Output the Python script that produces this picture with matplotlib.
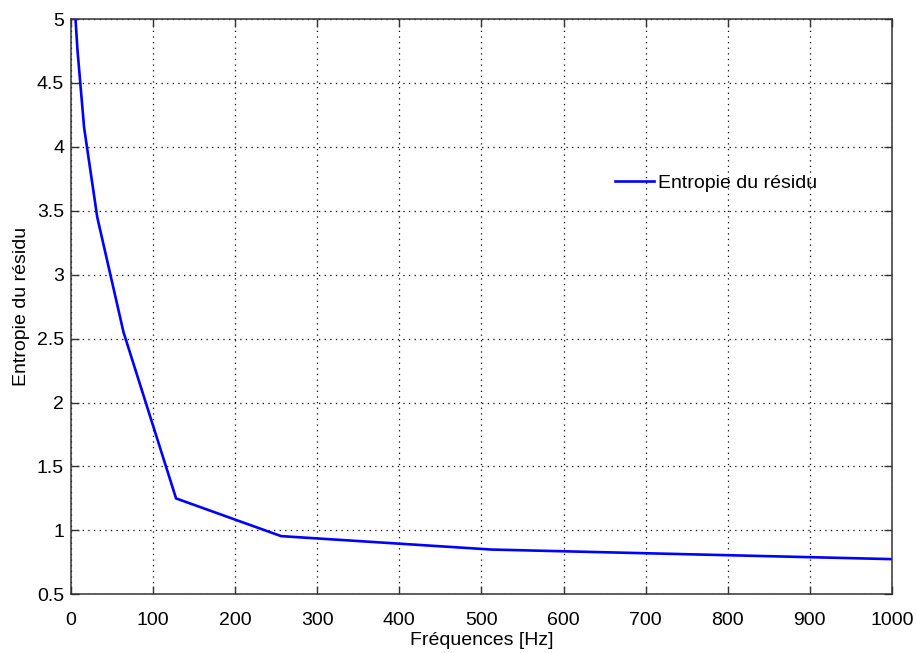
import matplotlib

matplotlib.use("Agg")
import matplotlib.pyplot as plt

# values
freqs = [4, 8, 16, 32, 64, 128, 256, 512, 1000]
entropy = [5.15, 4.75, 4.15, 3.45, 2.55, 1.25, 0.955, 0.85, 0.775]

x_ticks = [0, 100, 200, 300, 400, 500, 600, 700, 800, 900, 1000]
y_ticks = [0.5, 1, 1.5, 2, 2.5, 3, 3.5, 4, 4.5, 5]
y_tick_labels = ["0.5", "1", "1.5", "2", "2.5", "3", "3.5", "4", "4.5", "5"]

plt.rcParams["font.family"] = ["Liberation Sans", "DejaVu Sans"]
plt.rcParams["font.size"] = 14

fig = plt.figure(figsize=(9.17, 6.53), dpi=100)
ax = fig.add_axes([0.0774, 0.0899, 0.8953, 0.881])

ax.plot(freqs, entropy, color="#0000ff", linewidth=1.9, label="Entropie du résidu")

ax.set_xlim(0, 1000)
ax.set_ylim(0.5, 5)
ax.set_xticks(x_ticks)
ax.set_yticks(y_ticks)
ax.set_yticklabels(y_tick_labels)

ax.grid(True, linestyle=(0, (1, 3.5)), color="black", linewidth=0.9)
ax.tick_params(direction="in", length=6, width=1, colors="#333333",
               labelcolor="black", top=True, right=True, labelsize=14)
ax.tick_params(axis="x", pad=13)
ax.tick_params(axis="y", pad=5)
for spine in ax.spines.values():
    spine.set_color("#333333")
    spine.set_linewidth(1.1)

ax.set_xlabel("Fréquences [Hz]", fontsize=14, labelpad=2)
ax.set_ylabel("Entropie du résidu", fontsize=14, labelpad=5)

ax.legend(loc="center left", bbox_to_anchor=(0.641, 0.715), frameon=False,
          handlelength=2.0, handletextpad=0.2, fontsize=14)

fig.savefig("out.png", dpi=100)
